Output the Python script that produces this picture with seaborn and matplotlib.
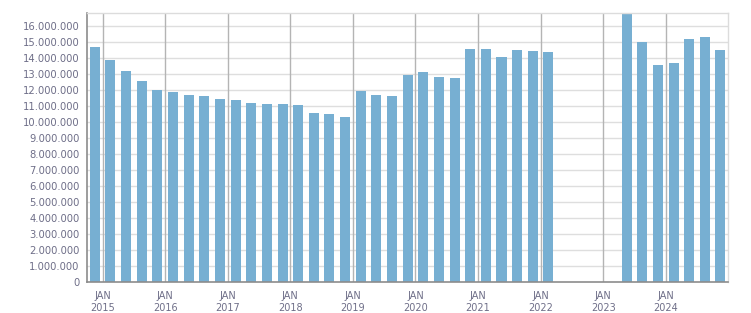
import matplotlib
matplotlib.use("Agg")
import matplotlib.pyplot as plt
import matplotlib.ticker as mticker
import numpy as np
import pandas as pd
import seaborn as sns

quarters = [
    "2014Q4",
    "2015Q1", "2015Q2", "2015Q3", "2015Q4",
    "2016Q1", "2016Q2", "2016Q3", "2016Q4",
    "2017Q1", "2017Q2", "2017Q3", "2017Q4",
    "2018Q1", "2018Q2", "2018Q3", "2018Q4",
    "2019Q1", "2019Q2", "2019Q3", "2019Q4",
    "2020Q1", "2020Q2", "2020Q3", "2020Q4",
    "2021Q1", "2021Q2", "2021Q3", "2021Q4",
    "2022Q1", "2022Q2", "2022Q3", "2022Q4",
    "2023Q1", "2023Q2", "2023Q3", "2023Q4",
    "2024Q1", "2024Q2", "2024Q3", "2024Q4",
]
values = [
    14720000,
    13900000, 13210000, 12580000, 12020000,
    11900000, 11710000, 11650000, 11460000,
    11390000, 11210000, 11140000, 11140000,
    11080000, 10580000, 10520000, 10330000,
    11960000, 11710000, 11650000, 12960000,
    13150000, 12840000, 12770000, 14590000,
    14590000, 14090000, 14530000, 14470000,
    14400000, np.nan, np.nan, np.nan,
    np.nan, 16900000, 15030000, 13590000,
    13710000, 15220000, 15340000, 14530000,
]
year_labels = ["2015", "2016", "2017", "2018", "2019", "2020",
               "2021", "2022", "2023", "2024"]

per = pd.PeriodIndex(quarters, freq="Q")
start = per[0]
pos = np.array([(p - start).n for p in per], dtype=float) + 0.5
df = pd.DataFrame({"x": pos, "v": values}).dropna()

sns.set_theme(style="white")
plt.rcParams["font.family"] = ["DejaVu Sans"]

fig = plt.figure(figsize=(7.51, 3.13), dpi=100)
ax = fig.add_axes([87 / 751, 1 - 281.7 / 313, (728.3 - 87) / 751, (281.7 - 13.3) / 313])

sns.barplot(data=df, x="x", y="v", native_scale=True, width=0.64,
            color="#77afd2", saturation=1, ax=ax)
for p in ax.patches:
    p.set_zorder(3)
    p.set_linewidth(0)

n = len(quarters)
ax.set_xlim(0, n)
ax.set_ylim(0, 16820000)

txt_col = "#6e6e88"
jan_pos = [(pd.Period(y + "Q1", freq="Q") - start).n for y in year_labels]
ax.set_xticks(jan_pos)
ax.set_xticklabels(["JAN\n" + y for y in year_labels], color=txt_col, fontsize=7)
ax.set_xticks(np.arange(0, n + 1), minor=True)
ax.tick_params(axis="x", which="major", length=5, width=0.9, color="#888888", pad=2)
ax.tick_params(axis="x", which="minor", length=3, width=0.9, color="#888888")

ax.set_yticks(np.arange(0, 16000001, 1000000))
ax.yaxis.set_major_formatter(mticker.FuncFormatter(lambda v, p: f"{int(v):,}".replace(",", ".")))
ax.tick_params(axis="y", length=4, width=0.9, color="#888888", labelsize=7.2,
               labelcolor=txt_col, pad=1.5)
ax.set_xlabel("")
ax.set_ylabel("")

for v in np.arange(1000000, 16000001, 1000000):
    ax.axhline(v, color="#dedede", lw=1, zorder=1)
for j in jan_pos:
    ax.axvline(j, color="#b4b4b4", lw=1, zorder=2)

for s in ["left", "bottom"]:
    ax.spines[s].set_color("#8c8c8c")
    ax.spines[s].set_linewidth(1.2)
for s in ["top", "right"]:
    ax.spines[s].set_color("#dcdcdc")
    ax.spines[s].set_linewidth(1)
for s in ax.spines.values():
    s.set_zorder(4)

fig.savefig("out.png", dpi=100)
